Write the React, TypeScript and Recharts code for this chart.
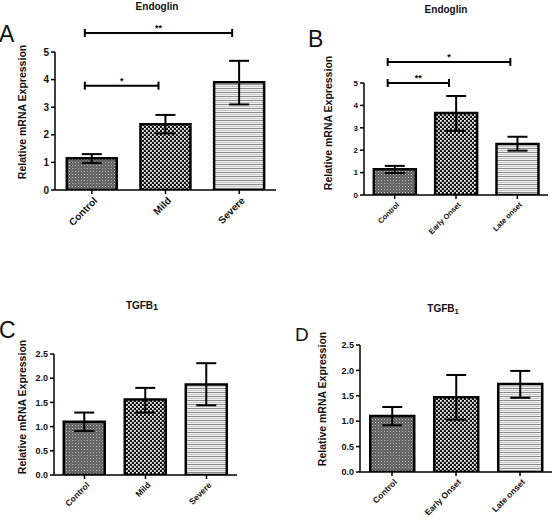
import { BarChart, Bar, XAxis, YAxis, ErrorBar, Cell, ReferenceLine } from "recharts";

// group names
const severityGroups = ["Control", "Mild", "Severe"];
const onsetGroups = ["Control", "Early Onset", "Late onset"];

// Endoglin, by severity (mean, lower and upper end of error bar)
const endoglinSevMean = [1.15, 2.38, 3.9];
const endoglinSevLow = [0.98, 2.05, 3.1];
const endoglinSevHigh = [1.3, 2.72, 4.68];

// Endoglin, by onset
const endoglinOnsetMean = [1.15, 3.66, 2.28];
const endoglinOnsetLow = [0.98, 2.86, 1.98];
const endoglinOnsetHigh = [1.3, 4.42, 2.6];

// TGFB1, by severity
const tgfSevMean = [1.1, 1.56, 1.87];
const tgfSevLow = [0.91, 1.29, 1.44];
const tgfSevHigh = [1.29, 1.8, 2.31];

// TGFB1, by onset
const tgfOnsetMean = [1.1, 1.47, 1.73];
const tgfOnsetLow = [0.92, 1.03, 1.46];
const tgfOnsetHigh = [1.28, 1.91, 1.99];

const endoglinTicks = [0, 1, 2, 3, 4, 5];
const tgfTicks = [0, 0.5, 1, 1.5, 2, 2.5];

// significance brackets
const endoglinSevBrackets = [
  { from: "Control", to: "Mild", y: 3.78, mark: "*" },
  { from: "Control", to: "Severe", y: 5.69, mark: "**" },
];
const endoglinOnsetBrackets = [
  { from: "Control", to: "Early Onset", y: 5.0, mark: "**" },
  { from: "Control", to: "Late onset", y: 5.94, mark: "*" },
];

const FONT = "'Liberation Sans', Arial, Helvetica, sans-serif";
const fills = ["url(#patCtrl)", "url(#patCheck)", "url(#patStripe)"];

const makeRows = (cats, mean, low, high) =>
  cats.map((name, i) => ({
    name,
    value: mean[i],
    err: [+(mean[i] - low[i]).toFixed(2), +(high[i] - mean[i]).toFixed(2)],
  }));

const SlantTick = ({ x, y, payload, fontSize }) => (
  <text
    x={x + 2}
    y={y + 1}
    dy="0.6em"
    transform={`rotate(-45 ${x + 2} ${y + 1})`}
    textAnchor="end"
    fontSize={fontSize}
    fontWeight="bold"
    fontFamily={FONT}
    fill="#111"
  >
    {payload.value}
  </text>
);

const bracketShape = (mark) => (props) => {
  const { x1, y1, x2 } = props;
  const a = x1 - 7;
  const b = x2 - 7;
  return (
    <g>
      <line x1={a} y1={y1} x2={b} y2={y1} stroke="#000" strokeWidth={2} />
      <line x1={a} y1={y1 - 4} x2={a} y2={y1 + 4} stroke="#000" strokeWidth={2} />
      <line x1={b} y1={y1 - 4} x2={b} y2={y1 + 4} stroke="#000" strokeWidth={2} />
      <text
        x={(a + b) / 2}
        y={y1 - 2}
        textAnchor="middle"
        fontSize={9}
        fontWeight="bold"
        fontFamily={FONT}
      >
        {mark}
      </text>
    </g>
  );
};

const Panel = ({
  left,
  top,
  width,
  height,
  margin,
  yWidth,
  xHeight,
  rows,
  domain,
  ticks,
  digits,
  yFont,
  xFont,
  brackets = [],
}) => (
  <div style={{ position: "absolute", left, top }}>
    <BarChart
      width={width}
      height={height}
      data={rows}
      margin={margin}
      barCategoryGap="16%"
      style={{ overflow: "visible" }}
    >
      <XAxis
        dataKey="name"
        height={xHeight}
        stroke="#000"
        strokeWidth={1.5}
        tickSize={4}
        interval={0}
        tick={<SlantTick fontSize={xFont} />}
      />
      <YAxis
        width={yWidth}
        domain={domain}
        ticks={ticks}
        allowDataOverflow
        stroke="#000"
        strokeWidth={1.5}
        tickSize={4}
        tickFormatter={(v) => v.toFixed(digits)}
        tick={{ fontSize: yFont, fontWeight: "bold", fill: "#111", fontFamily: FONT }}
      />
      <Bar dataKey="value" stroke="#000" strokeWidth={2.5} isAnimationActive={false}>
        {rows.map((r, i) => (
          <Cell key={r.name} fill={fills[i]} />
        ))}
        <ErrorBar dataKey="err" width={10} strokeWidth={2} stroke="#000" />
      </Bar>
      {brackets.map((b) => (
        <ReferenceLine
          key={b.mark + b.to}
          segment={[
            { x: b.from, y: b.y },
            { x: b.to, y: b.y },
          ]}
          ifOverflow="visible"
          shape={bracketShape(b.mark)}
        />
      ))}
    </BarChart>
  </div>
);

const txt = { fontFamily: FONT, fill: "#111" };

export default function App() {
  return (
    <div
      style={{
        position: "absolute",
        left: 0,
        top: 0,
        width: 552,
        height: 524,
        background: "#fff",
        overflow: "hidden",
      }}
    >
      <svg width={0} height={0} style={{ position: "absolute" }}>
        <defs>
          <pattern id="patCtrl" width={3} height={3} patternUnits="userSpaceOnUse">
            <rect width={3} height={3} fill="#5c5c5c" />
            <rect x={0} y={0} width={1} height={1} fill="#c4c4c4" />
            <rect x={1.5} y={1.5} width={1} height={1} fill="#a0a0a0" />
          </pattern>
          <pattern id="patCheck" width={4} height={4} patternUnits="userSpaceOnUse">
            <rect width={4} height={4} fill="#111" />
            <rect x={0} y={0} width={1.8} height={1.8} fill="#f4f4f4" />
            <rect x={2} y={2} width={1.8} height={1.8} fill="#f4f4f4" />
          </pattern>
          <pattern id="patStripe" width={4} height={4} patternUnits="userSpaceOnUse">
            <rect width={4} height={4} fill="#f2f2f2" />
            <rect x={0} y={0} width={4} height={1} fill="#8a8a8a" />
            <rect x={0} y={2} width={4} height={1} fill="#c8c8c8" />
          </pattern>
        </defs>
      </svg>

      <Panel
        left={0}
        top={0}
        width={276}
        height={260}
        margin={{ top: 52, right: 0, bottom: 20, left: 30 }}
        yWidth={25}
        xHeight={50}
        rows={makeRows(severityGroups, endoglinSevMean, endoglinSevLow, endoglinSevHigh)}
        domain={[0, 5]}
        ticks={endoglinTicks}
        digits={0}
        yFont={10}
        xFont={10}
        brackets={endoglinSevBrackets}
      />
      <Panel
        left={276}
        top={0}
        width={276}
        height={260}
        margin={{ top: 83, right: 4, bottom: 15, left: 63 }}
        yWidth={25}
        xHeight={50}
        rows={makeRows(onsetGroups, endoglinOnsetMean, endoglinOnsetLow, endoglinOnsetHigh)}
        domain={[0, 5]}
        ticks={endoglinTicks}
        digits={0}
        yFont={8}
        xFont={7.5}
        brackets={endoglinOnsetBrackets}
      />
      <Panel
        left={0}
        top={260}
        width={276}
        height={264}
        margin={{ top: 94, right: 39, bottom: 4, left: 24 }}
        yWidth={30}
        xHeight={45}
        rows={makeRows(severityGroups, tgfSevMean, tgfSevLow, tgfSevHigh)}
        domain={[0, 2.5]}
        ticks={tgfTicks}
        digits={1}
        yFont={9}
        xFont={8.5}
      />
      <Panel
        left={276}
        top={260}
        width={276}
        height={264}
        margin={{ top: 85, right: 0, bottom: 7, left: 54 }}
        yWidth={30}
        xHeight={45}
        rows={makeRows(onsetGroups, tgfOnsetMean, tgfOnsetLow, tgfOnsetHigh)}
        domain={[0, 2.5]}
        ticks={tgfTicks}
        digits={1}
        yFont={9}
        xFont={8.5}
      />

      <svg
        width={552}
        height={524}
        style={{ position: "absolute", left: 0, top: 0, pointerEvents: "none" }}
      >
        <g style={txt}>
          <text x={157} y={10} textAnchor="middle" fontSize={10} fontWeight="bold">
            Endoglin
          </text>
          <text x={446} y={13} textAnchor="middle" fontSize={10} fontWeight="bold">
            Endoglin
          </text>
          <text x={142} y={309} textAnchor="middle" fontSize={10} fontWeight="bold">
            TGFB<tspan fontSize={9} dy={1}>1</tspan>
          </text>
          <text x={443} y={312} textAnchor="middle" fontSize={10} fontWeight="bold">
            TGFB<tspan fontSize={7.5} dy={2}>1</tspan>
          </text>

          <text x={-1} y={42} fontSize={23}>A</text>
          <text x={308} y={47} fontSize={23}>B</text>
          <text x={-1} y={338} fontSize={23}>C</text>
          <text x={295} y={341} fontSize={19}>D</text>

          <text transform="translate(26 112) rotate(-90)" textAnchor="middle" fontSize={10.5} fontWeight="bold">
            Relative mRNA Expression
          </text>
          <text transform="translate(332 123) rotate(-90)" textAnchor="middle" fontSize={10.5} fontWeight="bold">
            Relative mRNA Expression
          </text>
          <text transform="translate(26 407) rotate(-90)" textAnchor="middle" fontSize={10.5} fontWeight="bold">
            Relative mRNA Expression
          </text>
          <text transform="translate(326 399) rotate(-90)" textAnchor="middle" fontSize={10.5} fontWeight="bold">
            Relative mRNA Expression
          </text>
        </g>
      </svg>
    </div>
  );
}
